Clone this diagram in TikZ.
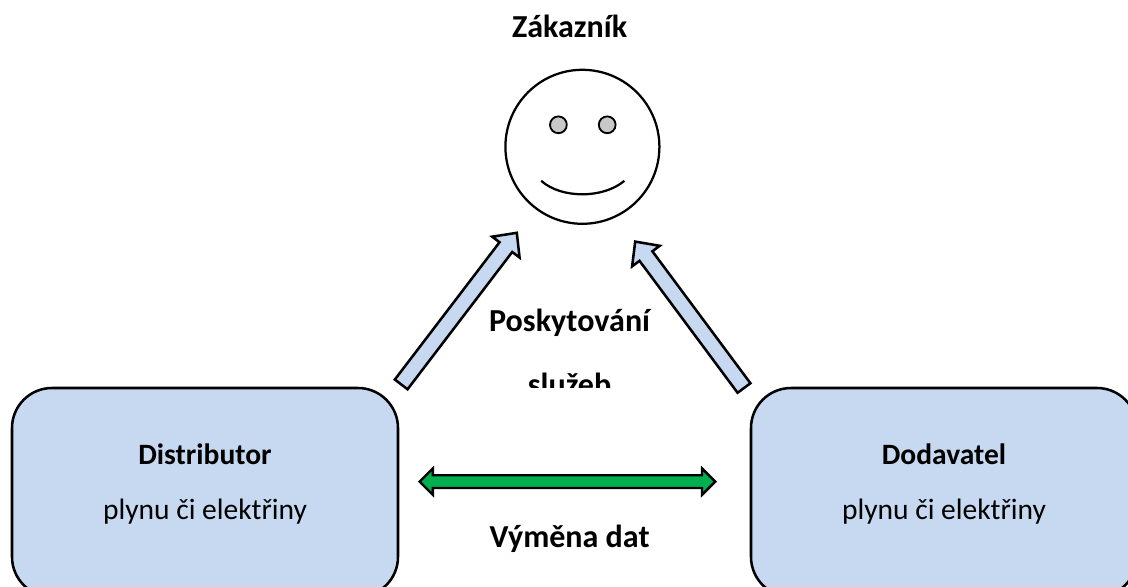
\documentclass[tikz,border=0pt]{standalone}
\usepackage{fontspec}
\setmainfont{Carlito}
\usetikzlibrary{calc}

\begin{document}
\begin{tikzpicture}[
    label text/.style={font=\fontsize{21}{26}\selectfont, inner sep=0pt, text=black, anchor=center},
    bold text/.style={label text, font=\fontsize{22.8}{27}\selectfont\bfseries},
    box title/.style={label text, font=\fontsize{21}{26}\selectfont\bfseries},
    party box/.style={draw=black, line width=1.8pt, fill=boxblue, rounded corners=1.0cm, minimum width=9.65cm, minimum height=5.22cm, inner sep=0pt},
    face line/.style={draw=black, line width=1.6pt},
    eye/.style={circle, draw=black, line width=1.3pt, fill=eyegrey, minimum size=0.42cm, inner sep=0pt},
    service arrow/.style={draw=black, line width=1.8pt, fill=boxblue, to path={
        ($(\tikztostart)!0.2cm!90:(\tikztotarget)$)
        -- ($(\tikztotarget)!0.45cm!0:(\tikztostart)!0.2cm!90:(\tikztotarget)$)
        -- ($(\tikztotarget)!0.45cm!0:(\tikztostart)!0.43cm!90:(\tikztotarget)$)
        -- (\tikztotarget)
        -- ($(\tikztotarget)!0.45cm!0:(\tikztostart)!0.43cm!-90:(\tikztotarget)$)
        -- ($(\tikztotarget)!0.45cm!0:(\tikztostart)!0.2cm!-90:(\tikztotarget)$)
        -- ($(\tikztostart)!0.2cm!-90:(\tikztotarget)$)
        -- cycle}},
    data arrow/.style={draw=black, line width=1.7pt, fill=datagreen}
    ]
\definecolor{boxblue}{HTML}{C6D9F0}
\definecolor{eyegrey}{HTML}{C8C8C8}
\definecolor{datagreen}{HTML}{00B050}

\useasboundingbox (0,0) rectangle (28.2,14.65);
\clip (0,0) rectangle (28.2,14.65);

\node (customer) at (14.24,14.0) [bold text] {Zákazník};

\node (face) at (14.56,10.98) [circle, face line, minimum size=3.85cm, inner sep=0pt] {};
\node (lefteye) at (13.96,11.53) [eye] {};
\node (righteye) at (15.18,11.53) [eye] {};
\draw[face line] (13.53,10.13) .. controls (14.03,9.68) and (15.08,9.68) .. (15.61,10.13);

\node (distributor) at (5.125,2.34) [party box] {};
\node (supplier) at (23.6,2.34) [party box] {};

\node (distname) at (distributor.center) [yshift=0.96cm, box title] {Distributor};
\node (distkind) at (distributor.center) [yshift=-0.475cm, label text] {plynu či elektřiny};
\node (suppname) at (supplier.center) [yshift=0.96cm, box title] {Dodavatel};
\node (suppkind) at (supplier.center) [yshift=-0.475cm, label text] {plynu či elektřiny};

\coordinate (disttail) at (10.03,5.04);
\coordinate (disttip) at (12.92,8.83);
\coordinate (supptail) at (18.6,4.95);
\coordinate (supptip) at (15.88,8.61);
\path[service arrow] (disttail) to (disttip);
\path[service arrow] (supptail) to (supptip);

\node (services) at (14.24,6.58) [bold text] {Poskytování};
\begin{scope}
\clip (12,4.97) rectangle (17,6);
\node (services2) at (14.24,4.775) [bold text, anchor=base] {služeb};
\end{scope}

\coordinate (dataleft) at (10.49,2.61);
\coordinate (dataright) at (17.88,2.61);
\draw[data arrow] (dataleft) -- ++(0.33,0.33) -- ++(0,-0.17) -- ($(dataright)+(-0.33,0.16)$) -- ++(0,0.17)
    -- (dataright) -- ++(-0.33,-0.33) -- ++(0,0.17) -- ($(dataleft)+(0.33,-0.16)$) -- ++(0,-0.17) -- cycle;

\node (exchange) at (14.24,1.17) [bold text] {Výměna dat};
\end{tikzpicture}
\end{document}
